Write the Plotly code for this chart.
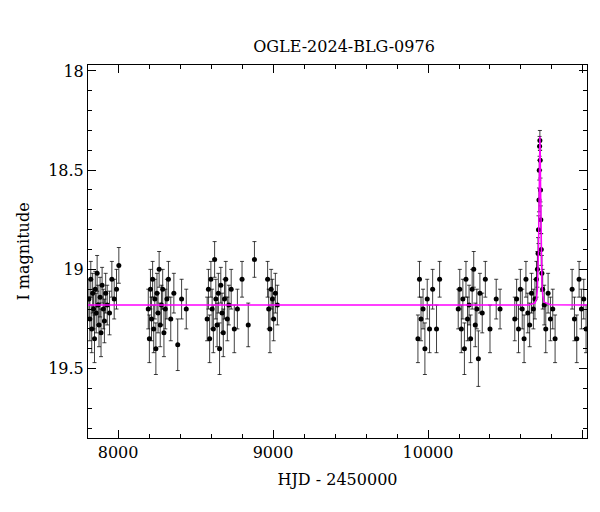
import plotly.graph_objects as go

# Observations: HJD-2450000, I mag, error
hjd = [7812,7818,7824,7830,7836,7842,7848,7853,7859,7865,7871,7877,7884,7890,7897,7905,7912,7920,7930,7945,7960,7975,7990,8005,
       8195,8202,8209,8216,8223,8230,8237,8244,8251,8258,8265,8272,8280,8288,8296,8305,8315,8325,8340,8360,8385,8410,8440,
       8575,8583,8591,8599,8607,8615,8623,8631,8639,8647,8655,8663,8671,8679,8687,8695,8705,8715,8730,8750,8770,8800,8840,8880,
       8965,8972,8980,8988,8996,9004,9015,9028,
       9935,9945,9955,9968,9980,9995,10010,10030,10055,10075,
       10195,10205,10215,10225,10235,10245,10255,10265,10275,10285,10295,10305,10315,10325,10335,10350,10370,10400,10440,10465,
       10560,10572,10584,10596,10608,10620,10632,10644,10656,10668,10680,10690,10700,10706,10710,10713,10716,10718,10720,10722,10724,10726,10728,10731,10735,10740,10750,10760,10775,10790,10805,10820,
       10930,10945,10960,10975,10990,11005,11020]
mag = [19.15,19.25,19.05,19.30,19.12,19.20,19.35,19.10,19.22,19.02,19.18,19.28,19.14,19.32,19.08,19.20,19.26,19.12,19.18,19.22,19.05,19.15,19.10,18.98,
       19.20,19.35,19.10,19.25,19.05,19.30,19.15,19.40,19.12,19.22,19.00,19.28,19.18,19.10,19.32,19.20,19.15,19.05,19.25,19.12,19.38,19.15,19.20,
       19.25,19.10,19.35,19.05,19.20,19.30,18.95,19.15,19.28,19.12,19.40,19.08,19.22,19.32,19.15,19.05,19.25,19.18,19.10,19.30,19.20,19.05,19.28,18.95,
       19.05,19.20,19.30,19.10,19.15,19.25,19.12,19.18,
       19.35,19.05,19.25,19.20,19.40,19.15,19.30,19.10,19.30,19.05,
       19.20,19.10,19.30,19.15,19.40,19.05,19.25,19.18,19.35,19.10,19.00,19.28,19.20,19.45,19.12,19.22,19.05,19.30,19.15,19.20,
       19.25,19.15,19.30,19.10,19.20,19.35,19.05,19.22,19.28,19.12,19.20,19.15,19.05,19.00,18.92,18.80,18.65,18.50,18.38,18.35,18.45,18.60,18.75,18.90,19.02,19.10,19.18,19.30,19.12,19.25,19.20,19.35,
       19.10,19.25,19.35,19.05,19.20,19.15,19.30]
err = [0.10,0.11,0.09,0.12,0.10,0.10,0.12,0.09,0.10,0.09,0.10,0.11,0.10,0.12,0.09,0.10,0.11,0.10,0.10,0.11,0.09,0.10,0.10,0.09,
       0.10,0.12,0.10,0.11,0.09,0.12,0.10,0.13,0.10,0.10,0.09,0.11,0.10,0.10,0.12,0.10,0.10,0.09,0.11,0.10,0.13,0.10,0.10,
       0.11,0.10,0.12,0.09,0.10,0.12,0.09,0.10,0.11,0.10,0.13,0.09,0.10,0.12,0.10,0.09,0.11,0.10,0.10,0.12,0.10,0.09,0.11,0.09,
       0.09,0.10,0.12,0.10,0.10,0.11,0.10,0.10,
       0.12,0.09,0.11,0.10,0.13,0.10,0.12,0.10,0.12,0.09,
       0.10,0.10,0.12,0.10,0.13,0.09,0.11,0.10,0.12,0.10,0.09,0.11,0.10,0.14,0.10,0.10,0.09,0.12,0.10,0.10,
       0.11,0.10,0.12,0.10,0.10,0.12,0.09,0.10,0.11,0.10,0.10,0.10,0.09,0.09,0.08,0.07,0.06,0.05,0.05,0.05,0.05,0.06,0.07,0.08,0.09,0.10,0.10,0.12,0.10,0.11,0.10,0.12,
       0.10,0.11,0.12,0.09,0.10,0.10,0.12]

# Model light curve
model_t = [7806,10650,10690,10700,10706,10710,10713,10716,10718,10720,10722,10724,10726,10728,10731,10735,10740,10750,10790,11026]
model_m = [19.18,19.18,19.17,19.15,19.10,19.02,18.90,18.72,18.55,18.40,18.33,18.40,18.55,18.72,18.92,19.06,19.13,19.165,19.178,19.18]

fig = go.Figure()
fig.add_trace(go.Scatter(x=hjd, y=mag, mode="markers",
    marker=dict(color="black", size=5),
    error_y=dict(type="data", array=err, color="rgba(0,0,0,0.75)", thickness=1, width=2)))
fig.add_trace(go.Scatter(x=model_t, y=model_m, mode="lines", line=dict(color="magenta", width=1.5)))

ax = dict(showline=True, linecolor="black", linewidth=1, mirror="ticks", ticks="inside",
          ticklen=8, tickcolor="black", showgrid=False, zeroline=False, automargin=False,
          tickfont=dict(size=16, color="black"))
fig.update_layout(
    width=600, height=512, showlegend=False, plot_bgcolor="white", paper_bgcolor="white",
    font=dict(family="DejaVu Serif", color="black"),
    margin=dict(l=80, r=21, t=57, b=82),
    title=dict(text="OGLE-2024-BLG-0976", x=0.56, y=0.935, font=dict(size=16)),
    xaxis=dict(ax, range=[7806, 11026], dtick=1000, tickformat="d",
               minor=dict(ticks="inside", ticklen=4, tickcolor="black", dtick=200),
               title=dict(text="HJD - 2450000", font=dict(size=16), standoff=12)),
    yaxis=dict(ax, range=[19.85, 17.97], dtick=0.5,
               minor=dict(ticks="inside", ticklen=4, tickcolor="black", dtick=0.1),
               title=dict(text="I magnitude", font=dict(size=16), standoff=14)),
)
fig.write_html("out.html")
